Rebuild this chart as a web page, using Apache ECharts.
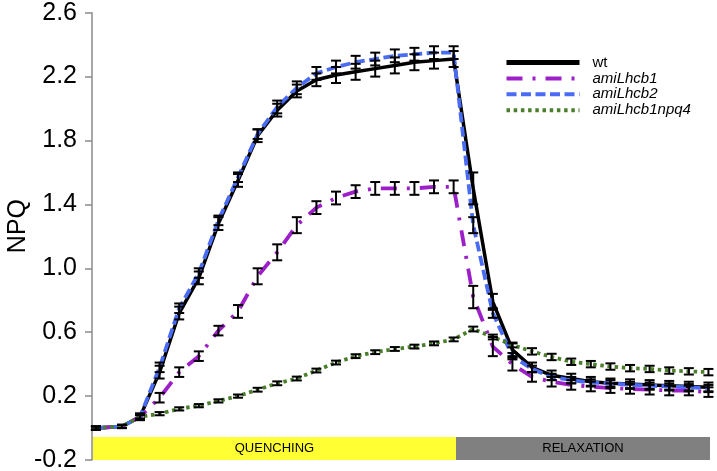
<!DOCTYPE html>
<html>
<head>
<meta charset="utf-8">
<script src="https://cdn.jsdelivr.net/npm/echarts@6/dist/echarts.min.js"></script>
<style>
  html, body { margin: 0; padding: 0; background: #fff; }
  #chart { width: 717px; height: 471px; }
</style>
</head>
<body>
<div id="chart"></div>
<script>
// time points (in measuring-step units)
const xPos = [0.2, 1.53, 2.45, 3.45, 4.45, 5.45, 6.45, 7.45, 8.45, 9.45, 10.45, 11.45, 12.45,
  13.45, 14.45, 15.45, 16.45, 17.45, 18.45, 19.45, 20.45, 21.45, 22.45, 23.45, 24.45,
  25.45, 26.45, 27.45, 28.45, 29.45, 30.45, 31.45]

// NPQ values
const wt = [0.0, 0.01, 0.07, 0.35, 0.72, 0.94, 1.28, 1.55, 1.83, 1.99, 2.11, 2.18, 2.21,
  2.23, 2.25, 2.27, 2.29, 2.30, 2.31, 1.50, 0.79, 0.49, 0.38, 0.33, 0.31,
  0.29, 0.28, 0.275, 0.27, 0.265, 0.26, 0.255]
const amiLhcb1 = [0.0, 0.01, 0.07, 0.19, 0.35, 0.45, 0.61, 0.73, 0.95, 1.10, 1.27, 1.38, 1.44,
  1.48, 1.50, 1.50, 1.50, 1.51, 1.51, 0.82, 0.51, 0.40, 0.32, 0.29, 0.27,
  0.26, 0.25, 0.245, 0.24, 0.235, 0.235, 0.225]
const amiLhcb2 = [0.0, 0.01, 0.07, 0.38, 0.75, 0.97, 1.30, 1.57, 1.84, 2.01, 2.13, 2.22, 2.26,
  2.29, 2.31, 2.33, 2.34, 2.35, 2.35, 1.27, 0.72, 0.45, 0.37, 0.32, 0.30,
  0.285, 0.28, 0.27, 0.265, 0.26, 0.255, 0.25]
const amiLhcb1npq4 = [0.0, 0.01, 0.07, 0.09, 0.12, 0.14, 0.17, 0.20, 0.24, 0.28, 0.31, 0.36, 0.41,
  0.45, 0.475, 0.495, 0.51, 0.53, 0.555, 0.62, 0.57, 0.52, 0.48, 0.445, 0.415,
  0.40, 0.385, 0.375, 0.37, 0.36, 0.355, 0.35]

// error (half length of the bars)
const wtErr = [0.01, 0.01, 0.02, 0.04, 0.04, 0.04, 0.04, 0.04, 0.04, 0.04, 0.04, 0.04, 0.05,
  0.05, 0.05, 0.05, 0.05, 0.05, 0.05, 0.10, 0.05, 0.04, 0.03, 0.03, 0.03,
  0.03, 0.03, 0.03, 0.03, 0.03, 0.03, 0.03]
const amiLhcb1Err = [0.01, 0.01, 0.02, 0.03, 0.03, 0.03, 0.03, 0.04, 0.05, 0.05, 0.05, 0.04, 0.04,
  0.04, 0.04, 0.04, 0.04, 0.04, 0.04, 0.07, 0.06, 0.04, 0.03, 0.03, 0.03,
  0.03, 0.03, 0.03, 0.03, 0.03, 0.03, 0.03]
const amiLhcb2Err = [0.01, 0.01, 0.02, 0.03, 0.03, 0.03, 0.03, 0.03, 0.03, 0.04, 0.04, 0.04, 0.04,
  0.04, 0.04, 0.04, 0.04, 0.04, 0.04, 0.05, 0.03, 0.02, 0.02, 0.02, 0.02,
  0.02, 0.02, 0.02, 0.02, 0.02, 0.02, 0.02]
const amiLhcb1npq4Err = [0.01, 0.01, 0.01, 0.01, 0.01, 0.01, 0.01, 0.01, 0.012, 0.012, 0.012, 0.012, 0.012,
  0.012, 0.012, 0.012, 0.012, 0.012, 0.012, 0.015, 0.015, 0.015, 0.02, 0.02, 0.02,
  0.02, 0.02, 0.02, 0.02, 0.02, 0.02, 0.02]

// light phases shown under the curves
const phaseNames = ['QUENCHING', 'RELAXATION']
const phaseStart = [0.05, 18.57]
const phaseEnd = [18.57, 31.53]
const phaseColors = ['#ffff33', '#808080']
const phaseTop = -0.056

const yTicks = { min: -0.2, max: 2.6, interval: 0.4 }

const FONT = "'Liberation Sans', Arial, sans-serif"

const chart = echarts.init(document.getElementById('chart'), null, { renderer: 'canvas' })

function pairs(vals) {
  return vals.map((v, i) => [xPos[i], v])
}

function errData(vals, errs) {
  return vals.map((v, i) => [xPos[i], v - errs[i], v + errs[i]])
}

/**
 * 画误差棒
 */
function renderErrorBar(params, api) {
  const x = api.value(0)
  const lo = api.coord([x, api.value(1)])
  const hi = api.coord([x, api.value(2)])
  const half = 5
  const style = { stroke: '#000', lineWidth: 2 }
  return {
    type: 'group',
    children: [
      { type: 'line', shape: { x1: lo[0], y1: lo[1], x2: hi[0], y2: hi[1] }, style },
      { type: 'line', shape: { x1: lo[0] - half, y1: lo[1], x2: lo[0] + half, y2: lo[1] }, style },
      { type: 'line', shape: { x1: hi[0] - half, y1: hi[1], x2: hi[0] + half, y2: hi[1] }, style }
    ]
  }
}

function lineSeries(name, vals, color, width, type, z) {
  return {
    name,
    type: 'line',
    data: pairs(vals),
    symbol: 'none',
    z,
    lineStyle: { color, width, type, cap: 'butt' },
    itemStyle: { color },
    emphasis: { disabled: true },
    animation: false
  }
}

function errSeries(vals, errs) {
  return {
    type: 'custom',
    renderItem: renderErrorBar,
    data: errData(vals, errs),
    z: 5,
    silent: true,
    animation: false
  }
}

const wtLine = lineSeries('wt', wt, '#000000', 3.5, 'solid', 2)
wtLine.markArea = {
  silent: true,
  label: { show: true, position: 'inside', color: '#000', fontSize: 13, fontFamily: FONT },
  data: phaseNames.map((n, i) => [
    { name: n, xAxis: phaseStart[i], yAxis: yTicks.min, itemStyle: { color: phaseColors[i], opacity: 1 } },
    { xAxis: phaseEnd[i], yAxis: phaseTop }
  ])
}

const option = {
  animation: false,
  grid: { left: 92, right: 7, top: 12.7, bottom: 11, outerBoundsMode: 'none' },
  xAxis: {
    type: 'value',
    min: 0,
    max: phaseEnd[1],
    show: false
  },
  yAxis: {
    type: 'value',
    min: yTicks.min,
    max: yTicks.max,
    interval: yTicks.interval,
    splitLine: { show: false },
    axisLine: { show: true, lineStyle: { color: '#8a8a8a', width: 1.5 } },
    axisTick: { show: true, length: 7, lineStyle: { color: '#8a8a8a', width: 1.5 } },
    axisLabel: {
      margin: 15,
      color: '#000',
      fontSize: 25,
      fontFamily: FONT,
      formatter: v => v.toFixed(1)
    }
  },
  legend: {
    orient: 'vertical',
    left: 504,
    top: 55,
    padding: 0,
    itemWidth: 73,
    itemHeight: 16,
    itemGap: 0.9,
    selectedMode: false,
    itemStyle: { opacity: 0 },
    data: [
      { name: 'wt', lineStyle: { width: 5 } },
      { name: 'amiLhcb1', lineStyle: { width: 4 } },
      { name: 'amiLhcb2', lineStyle: { width: 4 } },
      { name: 'amiLhcb1npq4', lineStyle: { width: 4 } }
    ],
    formatter: name => name === 'wt' ? '{n|' + name + '}' : '{i|' + name + '}',
    textStyle: {
      padding: [0, 0, 0, 8],
      rich: {
        n: { fontSize: 15, fontFamily: FONT, color: '#000', lineHeight: 16 },
        i: { fontSize: 15, fontFamily: FONT, color: '#000', fontStyle: 'italic', lineHeight: 16 }
      }
    }
  },
  graphic: [{
    type: 'text',
    left: 6,
    top: 199,
    rotation: Math.PI / 2,
    style: { text: 'NPQ', font: '25px ' + FONT, fill: '#000' }
  }],
  series: [
    wtLine,
    lineSeries('amiLhcb1', amiLhcb1, '#9d1fc8', 3.8, [16, 10, 3, 10], 3),
    lineSeries('amiLhcb2', amiLhcb2, '#4a6cf5', 3.8, [10, 4.5], 4),
    lineSeries('amiLhcb1npq4', amiLhcb1npq4, '#4b7f2c', 3.8, [3.5, 3.7], 4),
    errSeries(wt, wtErr),
    errSeries(amiLhcb1, amiLhcb1Err),
    errSeries(amiLhcb2, amiLhcb2Err),
    errSeries(amiLhcb1npq4, amiLhcb1npq4Err)
  ]
}

chart.setOption(option)
</script>
</body>
</html>
